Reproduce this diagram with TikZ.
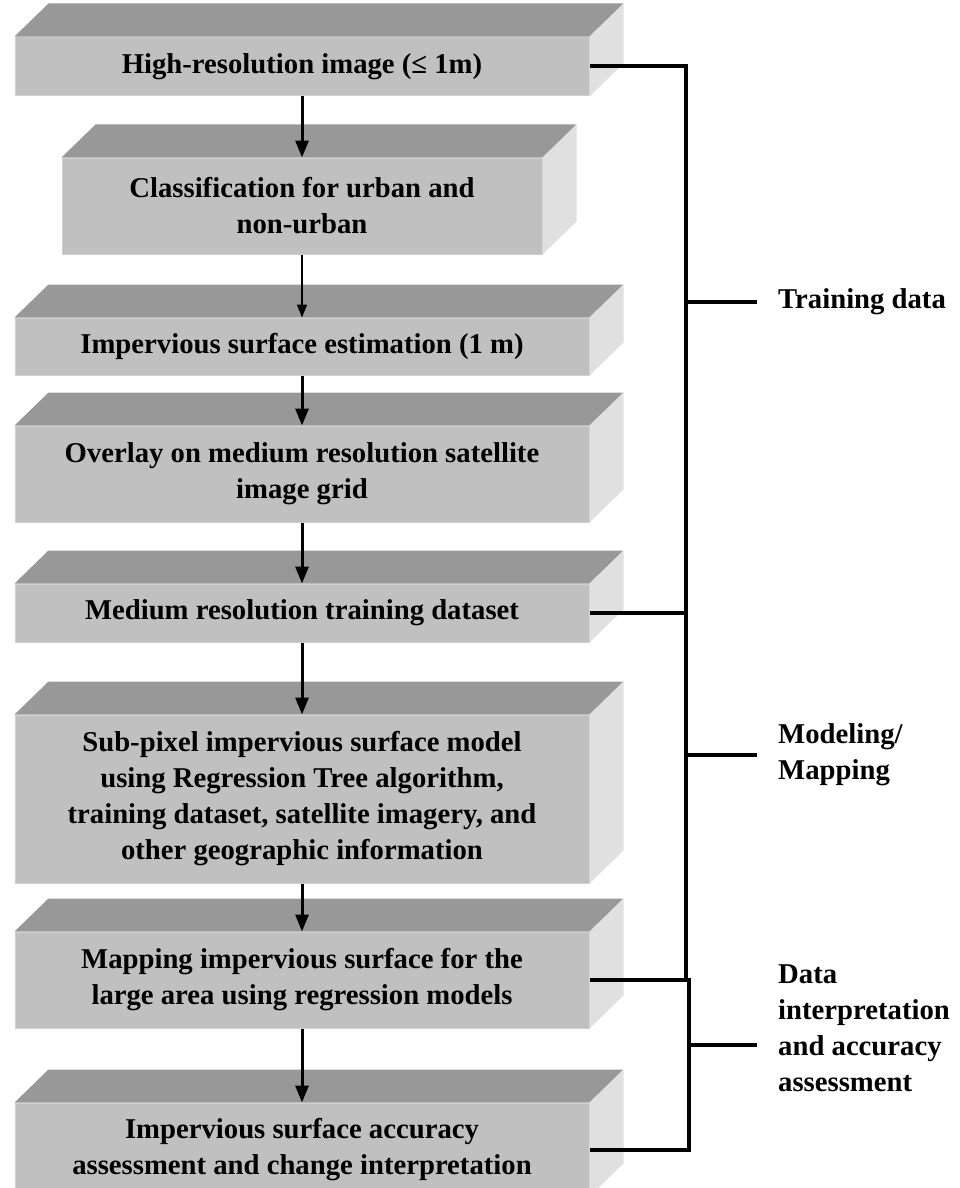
\documentclass[tikz,border=0pt]{standalone}
\usepackage{fontspec}
\setmainfont{Liberation Serif}
\usetikzlibrary{arrows.meta,positioning}
\definecolor{slabfront}{RGB}{192,192,192}
\definecolor{slabtop}{RGB}{152,152,152}
\definecolor{slabside}{RGB}{224,224,224}
\definecolor{slabrim}{RGB}{208,208,208}
\begin{document}
\begin{tikzpicture}[x=1pt, y=-1pt, >={Triangle[length=17pt,width=13pt]}]
    \tikzset{font={\fontsize{28.7pt}{36pt}\selectfont\bfseries}}
    \tikzset{slab/.style={fill=slabfront, draw=slabrim, line width=1pt, inner sep=0pt, minimum width=574pt, align=center},
      flow/.style={->, line width=3pt},
      bracket/.style={line width=4pt}}
    \useasboundingbox (0,0) rectangle (959,1188);
    \node [slab, minimum height=59pt] (hri) at (302,66.5) {High-resolution image (≤ 1m)};
    \node [slab, minimum height=96pt, minimum width=480pt, below=61pt of hri] (cls) {Classification for urban and\\non-urban};
    \node [slab, minimum height=57pt, below=63pt of cls] (ise) {Impervious surface estimation (1 m)};
    \node [slab, minimum height=96pt, below=50pt of ise] (ovl) {Overlay on medium resolution satellite\\image grid};
    \node [slab, minimum height=58pt, below=61pt of ovl] (mrt) {Medium resolution training dataset};
    \node [slab, minimum height=168pt, below=72pt of mrt] (spm) {Sub-pixel impervious surface model\\using Regression Tree algorithm,\\training dataset, satellite imagery, and\\other geographic information};
    \node [slab, minimum height=96pt, below=48pt of spm] (mis) {Mapping impervious surface for the\\large area using regression models};
    \node [slab, minimum height=93pt, below=74pt of mis] (isa) {Impervious surface accuracy\\assessment and change interpretation};
    \foreach \n in {hri,cls,ise,ovl,mrt,spm,mis,isa} {
      \fill [slabtop] (\n.north west) -- ++(34pt,33pt) -- ([shift={(34pt,33pt)}]\n.north east) -- (\n.north east) -- cycle;
      \fill [slabside] (\n.north east) -- ++(34pt,33pt) -- ([shift={(34pt,33pt)}]\n.south east) -- (\n.south east) -- cycle;
    }
    \draw [flow] (hri) -- (cls);
    \draw [->, >={Triangle[length=13pt,width=10pt]}, line width=1.5pt] (cls) -- (ise);
    \draw [flow] (ise) -- (ovl);
    \draw [flow] (ovl) -- (mrt);
    \draw [flow] (mrt) -- (spm);
    \draw [flow] (spm) -- (mis);
    \draw [flow] (mis) -- (isa);
    \node [anchor=west, inner sep=0pt] (trn) at (778,302) {Training data};
    \node [anchor=west, inner sep=0pt, align=left] (mod) at (778,755) {Modeling/\\Mapping};
    \node [anchor=west, inner sep=0pt, align=left] (dia) at (778,1028) {Data\\interpretation\\and accuracy\\assessment};
    \coordinate (spine) at (686,0);
    \coordinate (spine2) at (689,0);
    \coordinate (dtick) at (757,1045);
    \draw [bracket] (hri.east) -| (spine |- mis.east) -- (mis.east);
    \draw [bracket] (mrt.east) -- (mrt.east -| spine);
    \draw [bracket] ([xshift=-21pt]trn.west) -- (trn.west -| spine);
    \draw [bracket] ([xshift=-21pt]mod.west) -- (mod.west -| spine);
    \draw [bracket] (mis.east) -| (spine2 |- isa.east) -- (isa.east);
    \draw [bracket] (dtick) -- (dtick -| spine2);
\end{tikzpicture}
\end{document}
